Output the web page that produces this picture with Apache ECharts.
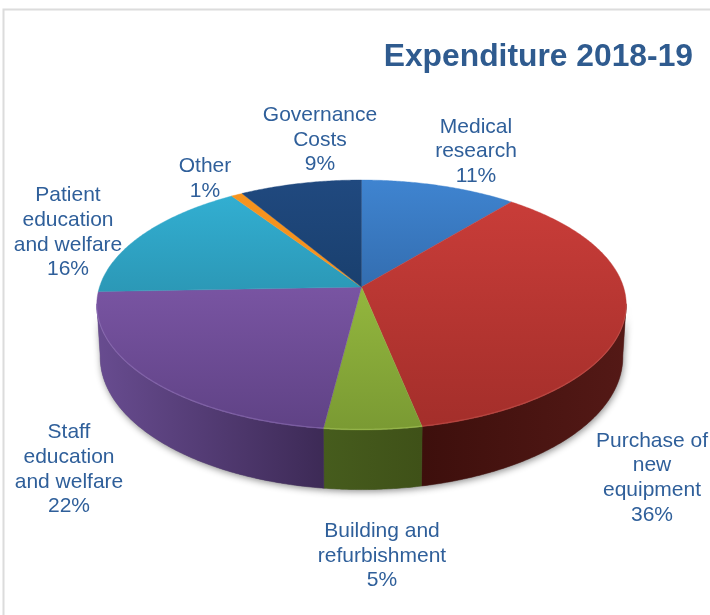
<!DOCTYPE html>
<html>
<head>
<meta charset="utf-8">
<style>html,body{margin:0;padding:0;background:#fff}#c{width:710px;height:615px}</style>
<script src="https://cdn.jsdelivr.net/npm/echarts@6/dist/echarts.min.js"></script>
</head>
<body>
<div id="c"></div>
<script>
const titleText = 'Expenditure 2018-19';
const categories = ['Medical\nresearch', 'Purchase of\nnew\nequipment', 'Building and\nrefurbishment', 'Staff\neducation\nand welfare', 'Patient\neducation\nand welfare', 'Other', 'Governance\nCosts'];
const values = [11, 36, 5.2, 22.5, 16.3, 0.8, 8.6];

// styling and layout, kept apart from the data
const topBack  = ['#3f84d0', '#cc3e3a', '#a6cc46', '#8c62b8', '#33b2d6', '#f7941e', '#20497f'];
const topFront = ['#234f85', '#a32e2a', '#7a9a33', '#5f4285', '#22788f', '#f08a1c', '#103358'];
const wallLeft  = ['#000', '#3d0f0c', '#465c1d', '#684c90', '#000', '#000', '#000'];
const wallRight = ['#000', '#541916', '#3f5118', '#3d2a56', '#000', '#000', '#000'];
const rimColor  = ['#000', '#cf5a55', '#b4d264', '#9c7cc4', '#000', '#000', '#000'];
const labelAt = [[476, 151.5], [652, 478], [382, 556], [69, 469.5], [68, 232.5], [205, 178.5], [320, 140]];

const cx = 361.5, cy = 287, rx = 262, ry = 122.4, k = 0.144, depth = 51, shrink = 0.987;
const total = values.reduce((a, b) => a + b, 0);
const frontFrom = 97.8, frontTo = 262.2;

function project(deg) {
  const t = deg * Math.PI / 180, s = 1 / (1 + k * Math.cos(t));
  return { x: cx + rx * Math.sin(t) * s, y: cy - ry * Math.cos(t) * s, s };
}
function arcPoints(a, b) {
  const pts = [], n = Math.max(2, Math.ceil((b - a) * 2));
  for (let i = 0; i <= n; i++) pts.push(project(a + (b - a) * i / n));
  return pts;
}
function renderSlice(params, api) {
  const i = params.dataIndex;
  const before = values.slice(0, i).reduce((a, b) => a + b, 0);
  const a0 = before / total * 360, a1 = (before + api.value(0)) / total * 360;
  const children = [];
  const f0 = Math.max(a0, frontFrom), f1 = Math.min(a1, frontTo);
  if (f1 > f0) {
    const rim = arcPoints(f0, f1);
    const upper = rim.map(p => [p.x, p.y]);
    const lower = rim.slice().reverse().map(p => [cx + (p.x - cx) * shrink, p.y + depth * p.s]);
    const pts = upper.concat(lower);
    const xs = pts.map(p => p[0]);
    const fill = new echarts.graphic.LinearGradient(Math.min(...xs), 0, Math.max(...xs), 0,
      [{ offset: 0, color: wallLeft[i] }, { offset: 1, color: wallRight[i] }], true);
    children.push({ type: 'polygon', z2: 0, shape: { points: pts },
      style: { fill: '#777', shadowColor: 'rgba(0,0,0,0.45)', shadowBlur: 7, shadowOffsetX: 1, shadowOffsetY: 2 } });
    children.push({ type: 'polygon', z2: 1, shape: { points: pts }, style: { fill: fill, stroke: fill, lineWidth: 0.5 } });
  }
  const topFill = new echarts.graphic.LinearGradient(0, cy - ry / (1 + k), 0, cy + ry / (1 - k),
    [{ offset: 0, color: topBack[i] }, { offset: 1, color: topFront[i] }], true);
  const top = [[cx, cy]].concat(arcPoints(a0, a1).map(p => [p.x, p.y]));
  children.push({ type: 'polygon', z2: 2, shape: { points: top }, style: { fill: topFill, stroke: topFill, lineWidth: 0.4 } });
  if (f1 > f0) {
    children.push({ type: 'polyline', z2: 3, shape: { points: arcPoints(f0, f1).map(p => [p.x, p.y - 0.6]) },
      style: { fill: null, stroke: rimColor[i], lineWidth: 1.2, opacity: 0.45 } });
  }
  children.push({ type: 'text', z2: 5, x: labelAt[i][0], y: labelAt[i][1],
    style: { text: categories[i] + '\n' + Math.round(api.value(0) / total * 100) + '%',
      fill: '#2f5f9a', font: '21px "Liberation Sans", Arial, sans-serif', lineHeight: 24.6,
      align: 'center', verticalAlign: 'middle' } });
  return { type: 'group', children };
}

const chart = echarts.init(document.getElementById('c'), null, { renderer: 'canvas' });
chart.setOption({
  animation: false,
  backgroundColor: '#fff',
  title: { text: titleText, right: 12, top: 36,
    textStyle: { color: '#2f5b8f', fontSize: 31.8, fontWeight: 'bold', fontFamily: '"Liberation Sans", Arial, sans-serif' } },
  graphic: [{ type: 'rect', z: -1, shape: { x: 3.5, y: 9.5, width: 760, height: 660 }, style: { fill: null, stroke: '#dcdcdc', lineWidth: 2 } }],
  series: [{
    type: 'custom', coordinateSystem: 'none', silent: true,
    data: values.map(v => [v]),
    renderItem: renderSlice
  }]
});
</script>
</body>
</html>
